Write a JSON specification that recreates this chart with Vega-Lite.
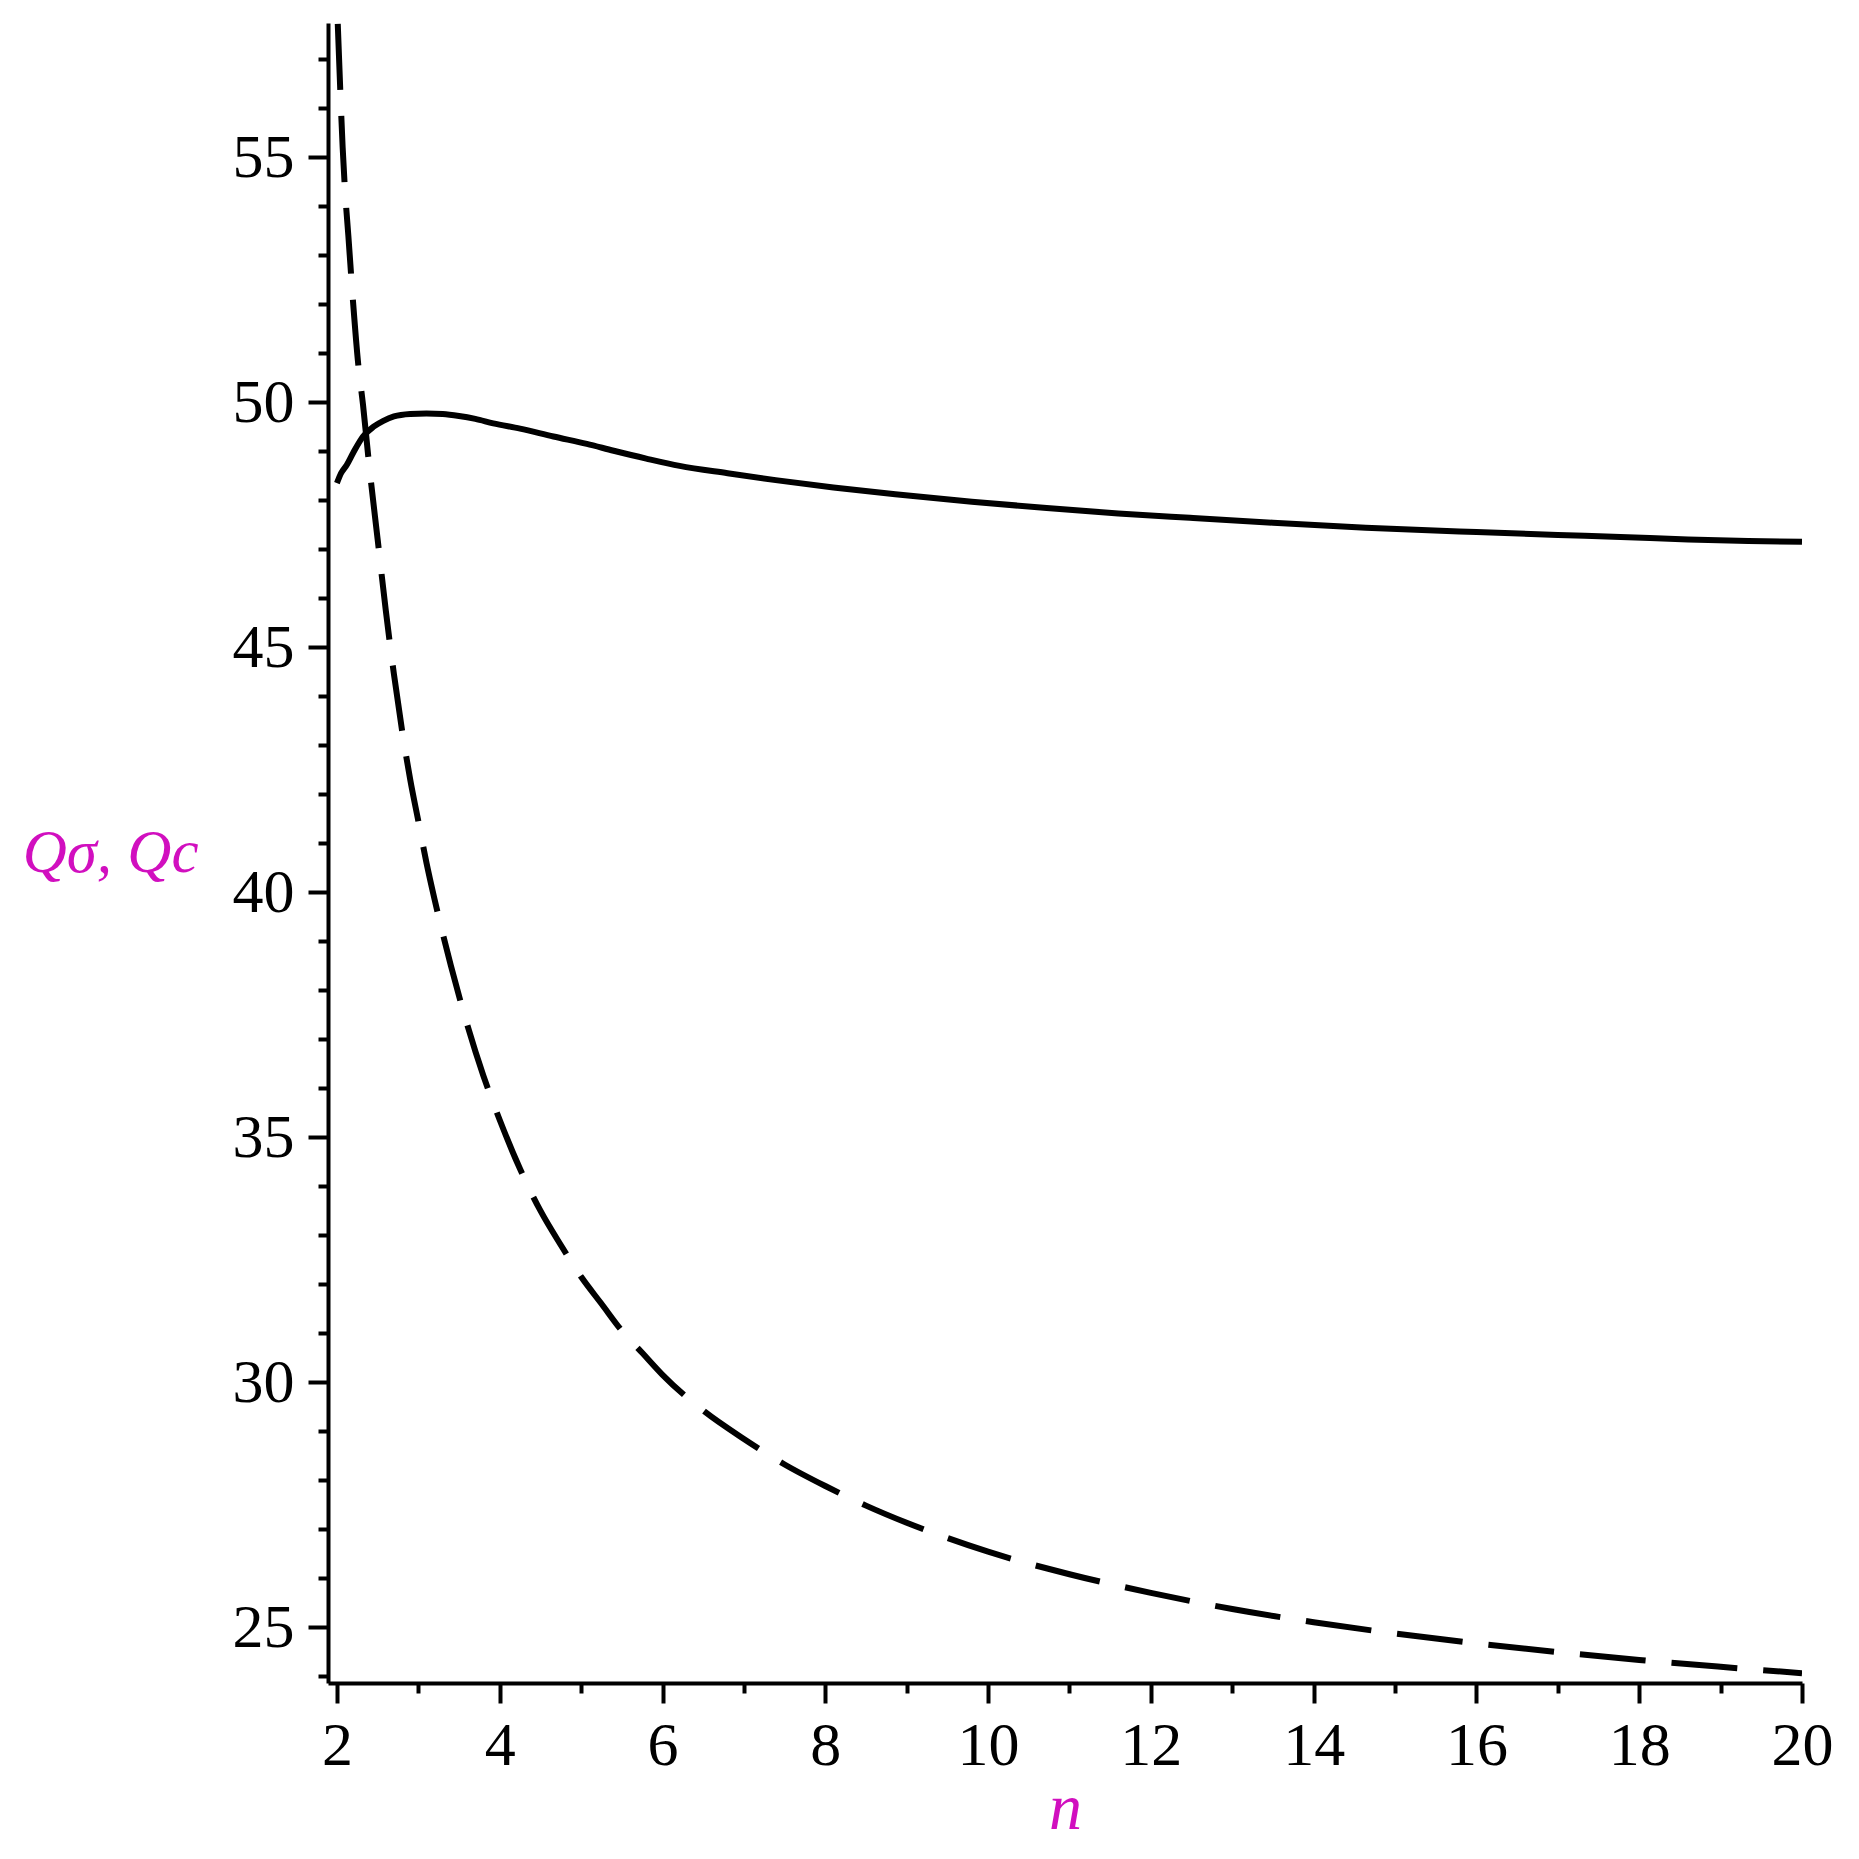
{
  "$schema": "https://vega.github.io/schema/vega-lite/v6.json",
  "width": 1474,
  "height": 1660,
  "autosize": "none",
  "padding": {"left": 328, "top": 23, "right": 57, "bottom": 176},
  "background": "white",
  "config": {
    "view": {"stroke": null},
    "axis": {
      "grid": false,
      "domainColor": "black",
      "tickColor": "black",
      "labelFont": "'Liberation Serif', 'Times New Roman', Times, serif",
      "labelFontSize": 62,
      "labelColor": "black",
      "titleFont": "'Liberation Serif', 'Times New Roman', Times, serif",
      "titleFontStyle": "italic",
      "titleFontWeight": "normal",
      "titleColor": "#d10fbf"
    }
  },
  "datasets": {
    "solid": [
      {"n": 2.0, "Q": 48.35}, {"n": 2.05, "Q": 48.55}, {"n": 2.12, "Q": 48.72}, {"n": 2.2, "Q": 48.97},
      {"n": 2.32, "Q": 49.3}, {"n": 2.45, "Q": 49.5}, {"n": 2.57, "Q": 49.62}, {"n": 2.7, "Q": 49.71},
      {"n": 2.9, "Q": 49.76}, {"n": 3.1, "Q": 49.77}, {"n": 3.3, "Q": 49.76}, {"n": 3.5, "Q": 49.72},
      {"n": 3.7, "Q": 49.66}, {"n": 3.92, "Q": 49.57}, {"n": 4.25, "Q": 49.46}, {"n": 4.66, "Q": 49.3},
      {"n": 5.07, "Q": 49.15}, {"n": 5.4, "Q": 49.01}, {"n": 5.8, "Q": 48.85}, {"n": 6.21, "Q": 48.7},
      {"n": 6.8, "Q": 48.55}, {"n": 7.39, "Q": 48.41}, {"n": 8.1, "Q": 48.26}, {"n": 8.86, "Q": 48.12},
      {"n": 9.8, "Q": 47.97}, {"n": 10.72, "Q": 47.84}, {"n": 11.6, "Q": 47.73}, {"n": 12.48, "Q": 47.64},
      {"n": 13.5, "Q": 47.54}, {"n": 14.64, "Q": 47.44}, {"n": 16.0, "Q": 47.35}, {"n": 17.0, "Q": 47.29},
      {"n": 17.77, "Q": 47.25}, {"n": 18.6, "Q": 47.2}, {"n": 19.34, "Q": 47.17}, {"n": 20.0, "Q": 47.15}
    ],
    "dashed": [
      {"n": 2.01, "Q": 57.72}, {"n": 2.04, "Q": 56.4}, {"n": 2.07, "Q": 55.2}, {"n": 2.1, "Q": 54.3},
      {"n": 2.14, "Q": 53.4}, {"n": 2.2, "Q": 52.0}, {"n": 2.26, "Q": 50.8}, {"n": 2.32, "Q": 49.95},
      {"n": 2.4, "Q": 48.65}, {"n": 2.5, "Q": 47.2}, {"n": 2.6, "Q": 45.75}, {"n": 2.7, "Q": 44.45},
      {"n": 2.8, "Q": 43.3}, {"n": 2.9, "Q": 42.3}, {"n": 3.0, "Q": 41.45}, {"n": 3.1, "Q": 40.6},
      {"n": 3.2, "Q": 39.85}, {"n": 3.4, "Q": 38.5}, {"n": 3.6, "Q": 37.3}, {"n": 3.8, "Q": 36.25},
      {"n": 4.0, "Q": 35.35}, {"n": 4.25, "Q": 34.35}, {"n": 4.5, "Q": 33.5}, {"n": 4.75, "Q": 32.8},
      {"n": 5.0, "Q": 32.15}, {"n": 5.25, "Q": 31.6}, {"n": 5.5, "Q": 31.05}, {"n": 5.75, "Q": 30.6},
      {"n": 6.0, "Q": 30.15}, {"n": 6.5, "Q": 29.42}, {"n": 7.0, "Q": 28.84}, {"n": 7.5, "Q": 28.32},
      {"n": 8.0, "Q": 27.88}, {"n": 8.5, "Q": 27.48}, {"n": 9.0, "Q": 27.13}, {"n": 9.5, "Q": 26.82},
      {"n": 10.0, "Q": 26.54}, {"n": 11.0, "Q": 26.08}, {"n": 12.0, "Q": 25.7}, {"n": 13.0, "Q": 25.37},
      {"n": 14.0, "Q": 25.1}, {"n": 15.0, "Q": 24.87}, {"n": 16.0, "Q": 24.67}, {"n": 17.0, "Q": 24.49},
      {"n": 18.0, "Q": 24.33}, {"n": 19.0, "Q": 24.19}, {"n": 20.0, "Q": 24.06}
    ]
  },
  "layer": [
    {
      "data": {"name": "solid"},
      "mark": {"type": "line", "color": "black", "strokeWidth": 6, "clip": true, "interpolate": "monotone"},
      "encoding": {
        "x": {
          "field": "n", "type": "quantitative",
          "scale": {"domain": [1.89, 20], "nice": false, "zero": false},
          "axis": {
            "orient": "bottom",
            "values": [2, 4, 6, 8, 10, 12, 14, 16, 18, 20],
            "tickSize": 20, "tickWidth": 4, "domainWidth": 4,
            "labelPadding": 12, "labelFlush": false,
            "title": "n", "titleFontSize": 66, "titlePadding": 0
          }
        },
        "y": {
          "field": "Q", "type": "quantitative",
          "scale": {"domain": [23.86, 57.74], "nice": false, "zero": false},
          "axis": {
            "orient": "left",
            "values": [25, 30, 35, 40, 45, 50, 55],
            "tickSize": 20, "tickWidth": 4, "domainWidth": 4,
            "labelPadding": 14, "labelFlush": false,
            "title": "Qσ, Qc", "titleFontSize": 61, "titleAngle": 0,
            "titleAlign": "right", "titleBaseline": "middle", "titlePadding": 34
          }
        }
      }
    },
    {
      "data": {"name": "dashed"},
      "mark": {"type": "line", "color": "black", "strokeWidth": 6, "strokeDash": [66, 26], "clip": true, "interpolate": "monotone"},
      "encoding": {
        "x": {
          "field": "n", "type": "quantitative",
          "axis": {
            "orient": "bottom",
            "values": [3, 5, 7, 9, 11, 13, 15, 17, 19],
            "tickSize": 10, "tickWidth": 4, "domain": false,
            "labels": false, "title": null
          }
        },
        "y": {
          "field": "Q", "type": "quantitative",
          "axis": {
            "orient": "left",
            "values": [24, 26, 27, 28, 29, 31, 32, 33, 34, 36, 37, 38, 39, 41, 42, 43, 44, 46, 47, 48, 49, 51, 52, 53, 54, 56, 57],
            "tickSize": 10, "tickWidth": 4, "domain": false,
            "labels": false, "title": null
          }
        }
      }
    }
  ],
  "resolve": {"axis": {"x": "independent", "y": "independent"}}
}
